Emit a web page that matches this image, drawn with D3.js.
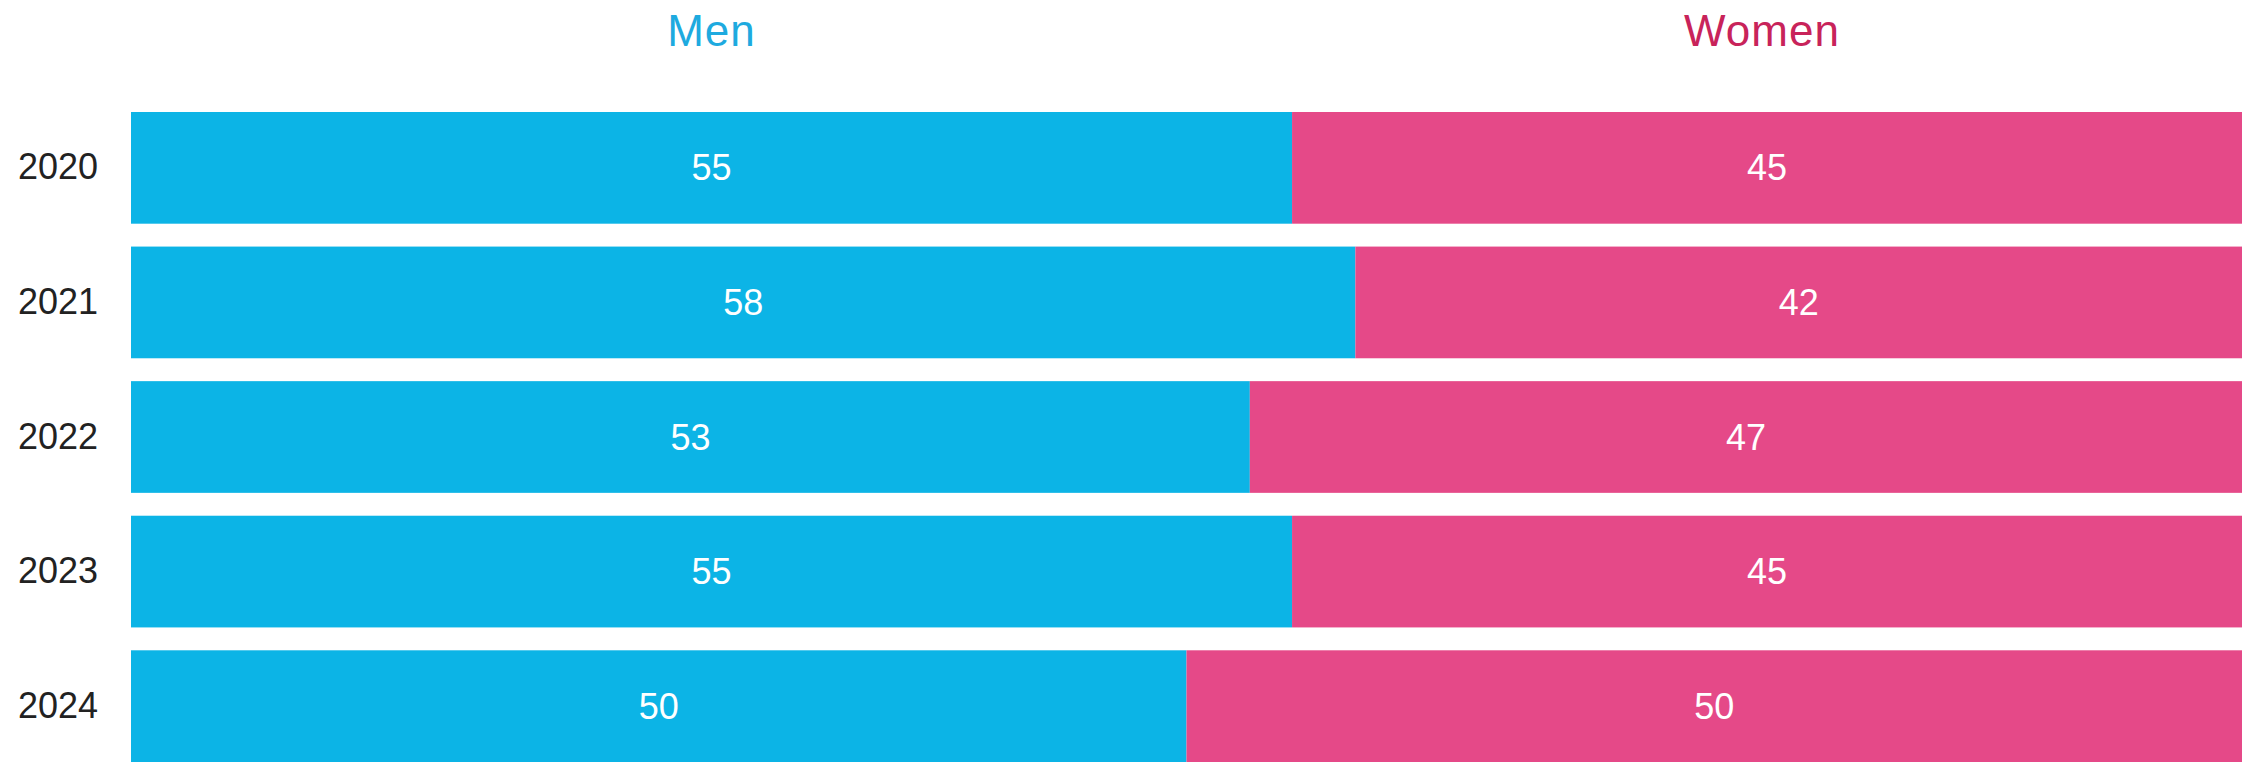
<!DOCTYPE html>
<html>
<head>
<meta charset="utf-8">
<script src="https://cdn.jsdelivr.net/npm/d3@7"></script>
<style>
  html, body { margin: 0; padding: 0; background: #fff; }
  svg text { font-family: "Liberation Sans", Arial, sans-serif; }
</style>
</head>
<body>
<div id="chart"></div>
<script>
// data
const years = ["2020", "2021", "2022", "2023", "2024"];
const men = [55, 58, 53, 55, 50];
const women = [45, 42, 47, 45, 50];
const seriesNames = ["Men", "Women"];

//layout
const dims = {width: 2242, height: 765};
const margin = {left: 131, right: 0, top: 112, bottom: 3};

const colors = {bar: ["#0cb4e6", "#e54988"], head: ["#1eaadf", "#c8235a"]};
const headNudge = [0, -5];

const svg = d3.select("#chart")
    .append("svg")
    .attr("width", dims.width)
    .attr("height", dims.height);

const x = d3.scaleLinear()
    .domain([0, 100])
    .range([margin.left, dims.width - margin.right]);

const y = d3.scaleBand()
    .domain(years)
    .range([margin.top, dims.height - margin.bottom])
    .paddingInner(0.17)
    .paddingOuter(0);

// stack the two series
const rows = years.map((yr, i) => ({year: yr, Men: men[i], Women: women[i]}));
const stack = d3.stack().keys(seriesNames);
const layers = stack(rows);

const graph = svg.append("g");

const layer = graph.selectAll("g.layer")
    .data(layers)
    .enter()
    .append("g")
    .attr("class", "layer")
    .attr("fill", (d, i) => colors.bar[i]);

layer.selectAll("rect")
    .data(d => d)
    .enter()
    .append("rect")
    .attr("x", d => x(d[0]))
    .attr("y", d => y(d.data.year))
    .attr("width", d => x(d[1]) - x(d[0]))
    .attr("height", y.bandwidth());

// value labels
layer.selectAll("text")
    .data(d => d)
    .enter()
    .append("text")
    .attr("x", d => (x(d[0]) + x(d[1])) / 2)
    .attr("y", d => y(d.data.year) + y.bandwidth() / 2)
    .attr("text-anchor", "middle")
    .attr("dominant-baseline", "central")
    .attr("fill", "#fff")
    .style("font-size", "36px")
    .text(d => d[1] - d[0]);

// year axis
const yAxis = svg.append("g")
    .attr("transform", `translate(${margin.left - 33},0)`)
    .call(d3.axisLeft(y).tickSize(0).tickPadding(0));
yAxis.select(".domain").remove();
yAxis.selectAll("text")
    .attr("fill", "#222")
    .style("font-size", "36px")
    .style("font-family", "'Liberation Sans', Arial, sans-serif");

// series headers, centred over the first row's segments
const first = layers.map(l => l[0]);
svg.append("g")
    .selectAll("text")
    .data(first)
    .enter()
    .append("text")
    .attr("x", (d, i) => (x(d[0]) + x(d[1])) / 2 + headNudge[i])
    .attr("y", 46)
    .attr("text-anchor", "middle")
    .attr("fill", (d, i) => colors.head[i])
    .style("font-size", "44px")
    .style("letter-spacing", "1px")
    .text((d, i) => seriesNames[i]);
</script>
</body>
</html>
